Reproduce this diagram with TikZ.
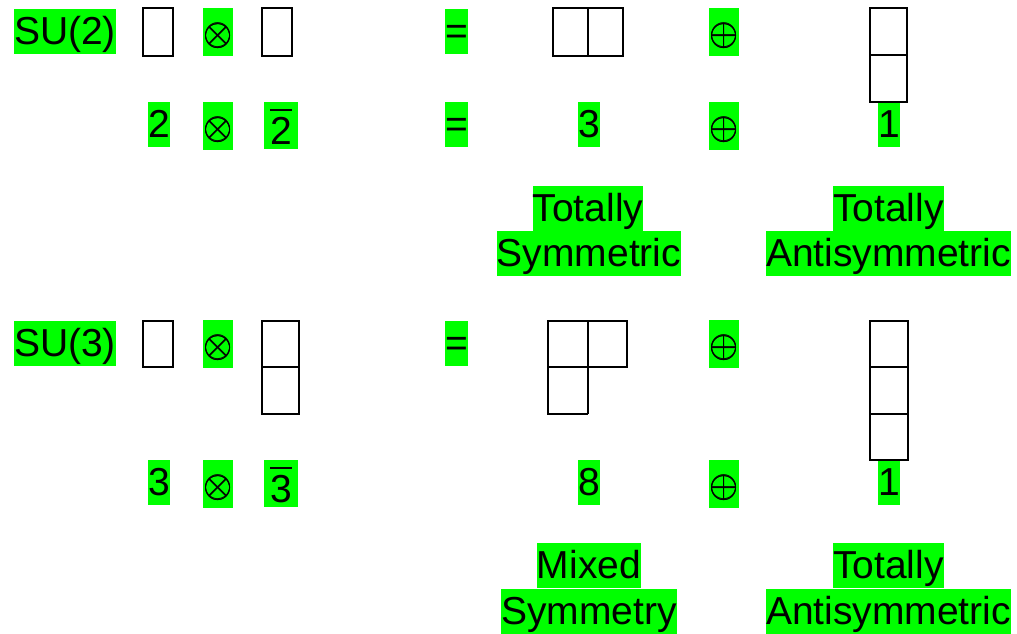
\documentclass[tikz,border=0pt]{standalone}
\usepackage{graphicx}
\usepackage{fontspec}
\setmainfont{Liberation Sans}
\newcommand{\barred}[1]{\rlap{\raisebox{33pt}{\rule{22pt}{1.8pt}}}#1}
\newcommand{\bigop}[1]{\fontsize{10}{12}\selectfont\scalebox{3.75}{\rlap{$#1$}\rlap{\raisebox{0.1pt}{\hspace{0.1pt}$#1$}}\hspace{0.05pt}$#1$}}
\begin{document}
\begin{tikzpicture}[x=1pt,y=-1pt,
  lbl/.style={fill=green, inner sep=0pt, anchor=north, text height=35pt, text depth=10pt, font=\fontsize{39}{45}\selectfont},
  barlbl/.style={fill=green, inner sep=0pt, anchor=north, minimum width=34pt, text height=42pt, text depth=5pt, font=\fontsize{39}{45}\selectfont},
  op/.style={fill=green, inner sep=0pt, anchor=north, minimum width=30pt, text height=37pt, text depth=11pt},
  ybox/.style={draw=black, line width=1.3pt}]
\useasboundingbox (0,0) rectangle (1017,634);
% Row 1
\node[lbl] (su2) at (65,9) {SU(2)};
\node[op] (ot1) at (218,8) {\bigop{\otimes}};
\node[lbl] (eq1) at (456.5,9) {=};
\node[op] (op1) at (724,8) {\bigop{\oplus}};
% Row 2
\node[lbl] (d2) at (159,102) {2};
\node[op] (ot2) at (218,102) {\bigop{\otimes}};
\node[barlbl] (d2b) at (281,102) {\barred{2}};
\node[lbl] (eq2) at (456.5,102) {=};
\node[lbl] (d3a) at (589,102) {3};
\node[op] (op2) at (724,102) {\bigop{\oplus}};
\node[lbl] (d1a) at (889,102) {1};
% labels 1
\node[lbl] (ts1) at (588,186) {Totally};
\node[lbl] (ts2) at (589,231) {Symmetric};
\node[lbl] (ta1) at (888.5,186) {Totally};
\node[lbl] (ta2) at (888.5,231) {Antisymmetric};
% Row 3
\node[lbl] (su3) at (65,321) {SU(3)};
\node[op] (ot3) at (218,320) {\bigop{\otimes}};
\node[lbl] (eq3) at (456.5,321) {=};
\node[op] (op3) at (724,320) {\bigop{\oplus}};
% Row 4
\node[lbl] (d3) at (159,460) {3};
\node[op] (ot4) at (218,460) {\bigop{\otimes}};
\node[barlbl] (d3b) at (281,460) {\barred{3}};
\node[lbl] (d8) at (589,460) {8};
\node[op] (op4) at (724,460) {\bigop{\oplus}};
\node[lbl] (d1b) at (889,460) {1};
% labels 2
\node[lbl] (ms1) at (589,543) {Mixed};
\node[lbl] (ms2) at (589,589) {Symmetry};
\node[lbl] (tb1) at (888.5,543) {Totally};
\node[lbl] (tb2) at (888.5,589) {Antisymmetric};
% Young diagrams SU(2)
\draw[ybox] (143,8) rectangle (173,56);
\draw[ybox] (262,8) rectangle (292,56);
\draw[ybox] (553,8) rectangle (623,56) (588,8) -- (588,56);
\draw[ybox] (870,8) rectangle (907,102) (870,55) -- (907,55);
% Young diagrams SU(3)
\draw[ybox] (143,321) rectangle (173,367);
\draw[ybox] (262,321) rectangle (299,414) (262,367) -- (299,367);
\draw[ybox] (548,321) rectangle (627,367) (588,321) -- (588,414) (548,367) -- (548,414) -- (588,414);
\draw[ybox] (870,321) rectangle (908,460) (870,367) -- (908,367) (870,414) -- (908,414);
\end{tikzpicture}
\end{document}
